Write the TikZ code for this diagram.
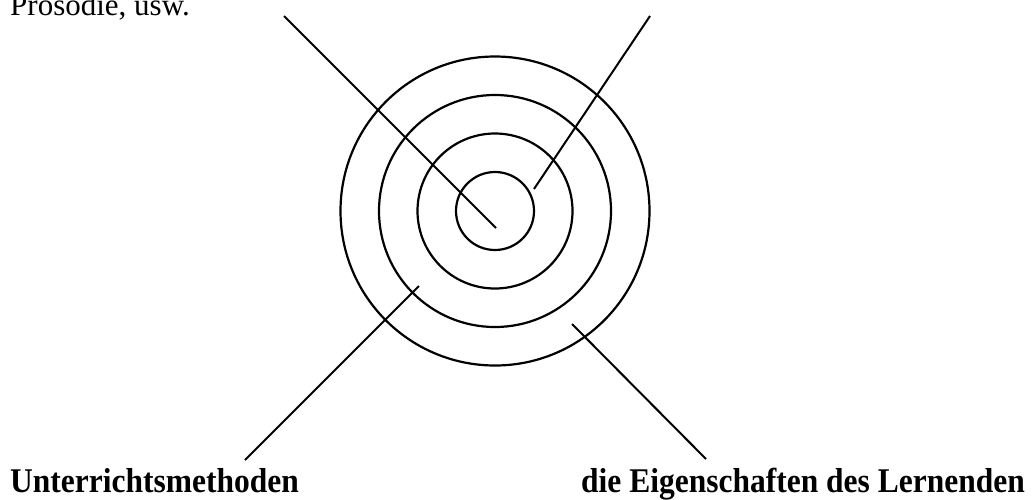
\documentclass[tikz,border=0pt]{standalone}
\usepackage{fontspec}
\setmainfont{Liberation Serif}
\begin{document}
\begin{tikzpicture}[x=1pt,y=-1pt,
  ring/.style={circle,draw,line width=2.2pt,inner sep=0pt},
  lead/.style={line width=2pt},
  lbl/.style={inner sep=0pt,anchor=base west,font=\fontsize{31}{36}\selectfont},
  blbl/.style={lbl,font=\fontsize{31.5}{36}\selectfont\bfseries}]
\useasboundingbox (0,0) rectangle (1032,499);
\coordinate (ctr) at (495,211);
\node[ring,minimum size=78pt] (c1) at (ctr) {};
\node[ring,minimum size=155pt] (c2) at (ctr) {};
\node[ring,minimum size=232pt] (c3) at (ctr) {};
\node[ring,minimum size=309pt] (c4) at (ctr) {};
\node[lbl] (prosodie) at (10,15) {Prosodie, usw.};
\node[blbl,yscale=1.1] (methoden) at (10,492) {Unterrichtsmethoden};
\node[blbl,yscale=1.1] (eigen) at (581,492) {die Eigenschaften des Lernenden};
\coordinate (a1) at (284,16);
\coordinate (a2) at (496,228);
\coordinate (b1) at (650,16);
\coordinate (b2) at (534,189);
\coordinate (d1) at (419,286);
\coordinate (d2) at (245,460);
\coordinate (e1) at (572,324);
\coordinate (e2) at (706,459);
\draw[lead] (a1) -- (a2);
\draw[lead] (b1) -- (b2);
\draw[lead] (d1) -- (d2);
\draw[lead] (e1) -- (e2);
\end{tikzpicture}
\end{document}
